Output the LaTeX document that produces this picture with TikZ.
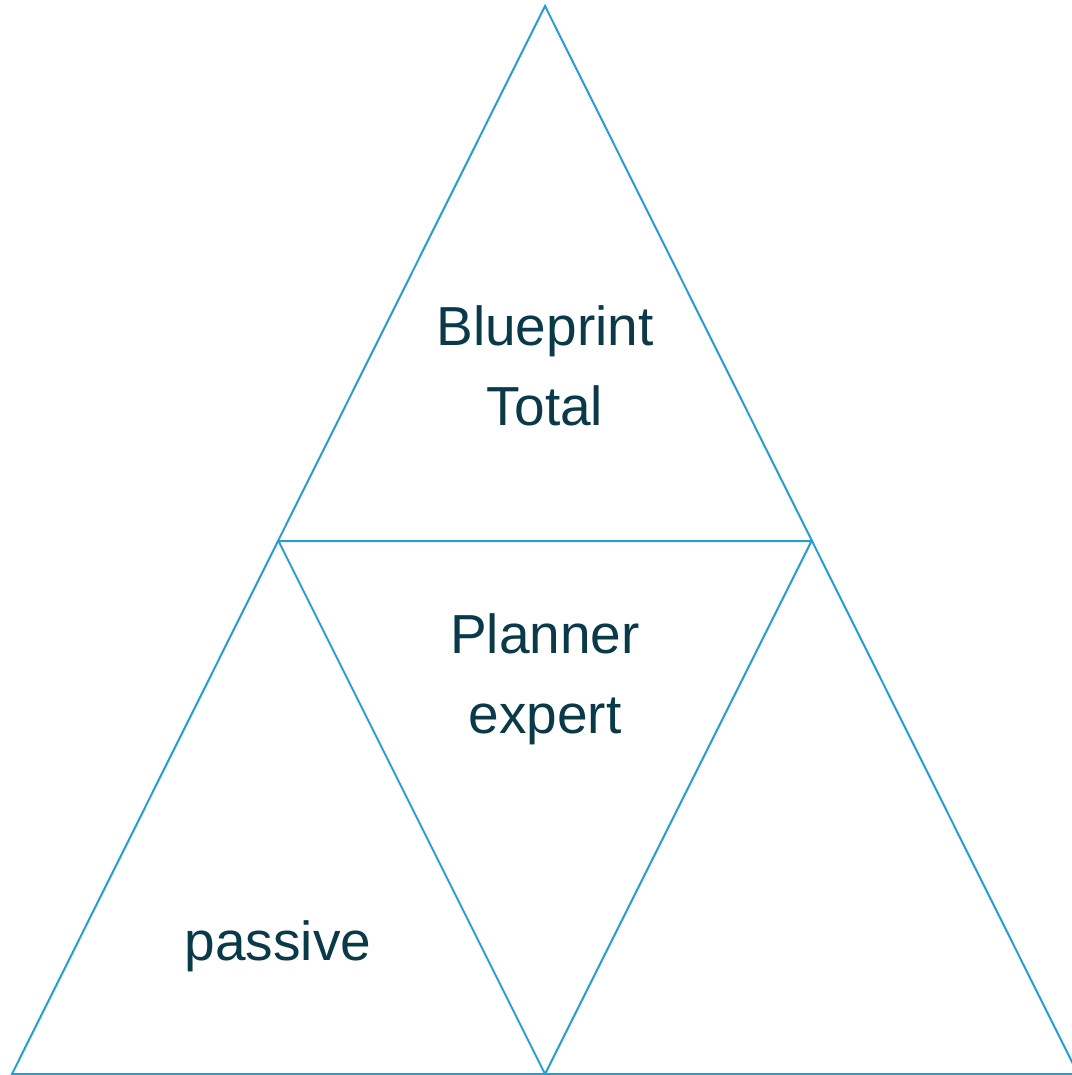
\documentclass[tikz,border=0pt]{standalone}
\usepackage{fontspec}
\setmainfont{Liberation Sans}
\definecolor{edgeblue}{HTML}{279DD6}
\definecolor{textteal}{HTML}{0A3A4A}
\begin{document}
\begin{tikzpicture}[x=1pt,y=-1pt,
  tri/.style={draw=edgeblue,line width=2pt,line join=miter},
  lbl/.style={text=textteal,font=\fontsize{55}{80}\selectfont,align=center,inner sep=0pt,anchor=base}]
\useasboundingbox (0,0) rectangle (1071,1075);
\coordinate (apex) at (545,6);
\coordinate (bl) at (12,1074);
\coordinate (br) at (1078,1074);
\coordinate (ml) at (278.5,541);
\coordinate (mr) at (811.5,541);
\coordinate (bc) at (545,1074);
\draw[tri] (apex) -- (bl) -- (br) -- cycle;
\draw[tri] (ml) -- (mr) -- (bc) -- cycle;
\node[lbl] (t1) at (545,345) {Blueprint};
\node[lbl] (t2) at (545,425) {Total};
\node[lbl] (t3) at (545,653) {Planner};
\node[lbl] (t4) at (545,733) {expert};
\node[lbl] (t5) at (278,960) {passive};
\end{tikzpicture}
\end{document}
